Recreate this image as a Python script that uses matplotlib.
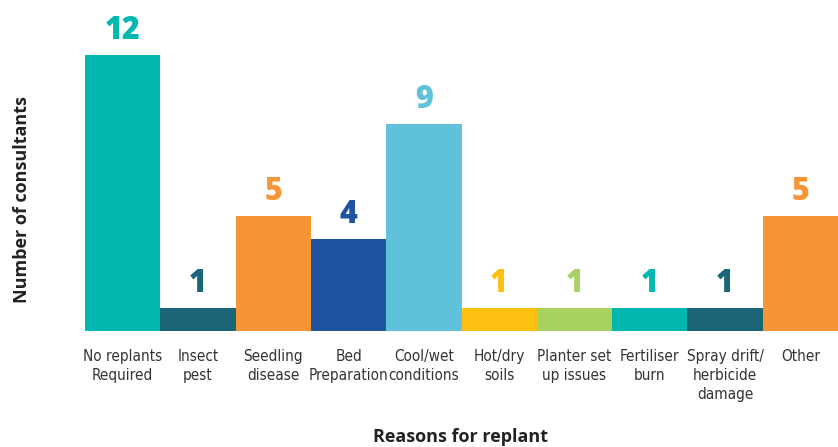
import matplotlib.pyplot as plt
import numpy as np

reasons = ['No replants\nRequired', 'Insect\npest', 'Seedling\ndisease', 'Bed\nPreparation',
           'Cool/wet\nconditions', 'Hot/dry\nsoils', 'Planter set\nup issues', 'Fertiliser\nburn',
           'Spray drift/\nherbicide\ndamage', 'Other']
counts = [12, 1, 5, 4, 9, 1, 1, 1, 1, 5]
colors = ['#00b8b0', '#1a6577', '#f79433', '#1f55a0', '#5fc1da',
          '#fdc010', '#a9d160', '#00b8b0', '#1a6577', '#f79433']

fig = plt.figure(figsize=(8.38, 4.47), dpi=100)
# bars start at x=85 px, baseline at y=331 px, 23 px per consultant
ax = fig.add_axes([85/838, (447-331)/447, (838-85)/838, 13.6*23/447])
x = np.arange(len(counts))
ax.bar(x, counts, width=1.0, color=colors)
ax.set_xlim(-0.5, 9.5)
ax.set_ylim(0, 13.6)

for xi, v, c in zip(x, counts, colors):
    ax.text(xi, v + 0.35, str(v), ha='center', va='bottom', color=c,
            fontsize=22, fontweight='heavy', family='Open Sans')

ax.set_xticks(x)
ax.set_xticklabels(reasons, family='DejaVu Sans', fontstretch='condensed',
                   fontsize=11, color='#333333', va='top', linespacing=1.35)
ax.tick_params(axis='x', length=0, pad=13)
ax.set_yticks([])
for s in ax.spines.values():
    s.set_visible(False)

fig.text(22/838, 1 - 200/447, 'Number of consultants', rotation=90, ha='center', va='center',
         fontsize=13, fontweight='bold', family='Open Sans', color='#222222')
fig.text(460/838, 1 - 437/447, 'Reasons for replant', ha='center', va='center',
         fontsize=13, fontweight='bold', family='Open Sans', color='#222222')

fig.savefig('out.png', dpi=100)
